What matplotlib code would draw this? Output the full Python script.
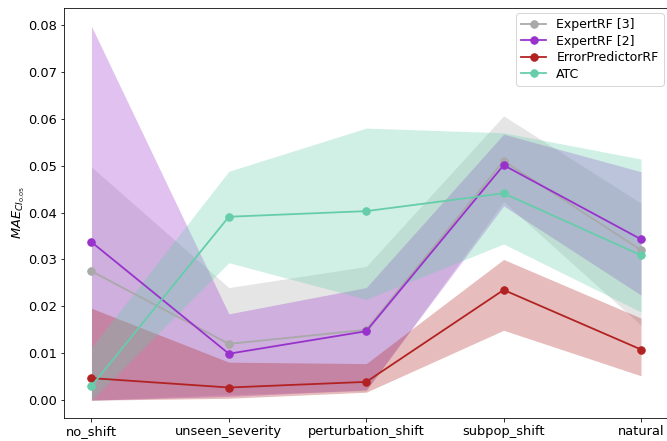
import matplotlib.pyplot as plt
import numpy as np

shifts = ["no_shift", "unseen_severity", "perturbation_shift", "subpop_shift", "natural"]

# mean values per method
expert3_mean = [0.0275, 0.0120, 0.0150, 0.0510, 0.0320]
expert2_mean = [0.0337, 0.0099, 0.0147, 0.0501, 0.0343]
errpred_mean = [0.0047, 0.0027, 0.0039, 0.0235, 0.0108]
atc_mean = [0.0030, 0.0391, 0.0403, 0.0441, 0.0309]

# band lower / upper
expert3_lo = [0.0000, 0.0012, 0.0020, 0.0423, 0.0160]
expert3_hi = [0.0497, 0.0240, 0.0285, 0.0606, 0.0420]
expert2_lo = [0.0000, 0.0008, 0.0022, 0.0414, 0.0224]
expert2_hi = [0.0797, 0.0184, 0.0240, 0.0567, 0.0487]
errpred_lo = [0.0000, 0.0004, 0.0017, 0.0149, 0.0052]
errpred_hi = [0.0196, 0.0081, 0.0078, 0.0300, 0.0175]
atc_lo = [0.0000, 0.0293, 0.0215, 0.0333, 0.0188]
atc_hi = [0.0112, 0.0488, 0.0580, 0.0570, 0.0514]

series = [
    ("ExpertRF [3]", expert3_mean, expert3_lo, expert3_hi, "darkgray"),
    ("ExpertRF [2]", expert2_mean, expert2_lo, expert2_hi, "darkorchid"),
    ("ErrorPredictorRF", errpred_mean, errpred_lo, errpred_hi, "firebrick"),
    ("ATC", atc_mean, atc_lo, atc_hi, "mediumaquamarine"),
]

fig = plt.figure(figsize=(667 / 72, 441 / 72), dpi=72)
ax = fig.add_axes([64 / 667, 23 / 441, 604.5 / 667, 410 / 441])

x = np.arange(len(shifts))
for label, mean, lo, hi, color in series:
    ax.plot(x, mean, marker="o", color=color, label=label, lw=1.8, ms=7.5)
    ax.fill_between(x, lo, hi, color=color, alpha=0.3, lw=0)

ax.set_xticks(x)
ax.set_xticklabels(shifts, fontsize=13)
ax.set_xlim(-0.2, 4.2)
ax.set_ylim(-0.0038, 0.0836)
ax.set_yticks(np.arange(0, 0.081, 0.01))
ax.yaxis.set_major_formatter(plt.FormatStrFormatter("%.2f"))
ax.tick_params(axis="y", labelsize=13)
ax.set_ylabel(r"$MAE_{CI_{0.05}}$", fontsize=13, labelpad=1)
ax.legend(loc="upper right", fontsize=12.5, labelspacing=0.28, borderaxespad=0.4)

fig.savefig("out.png", dpi=72)
